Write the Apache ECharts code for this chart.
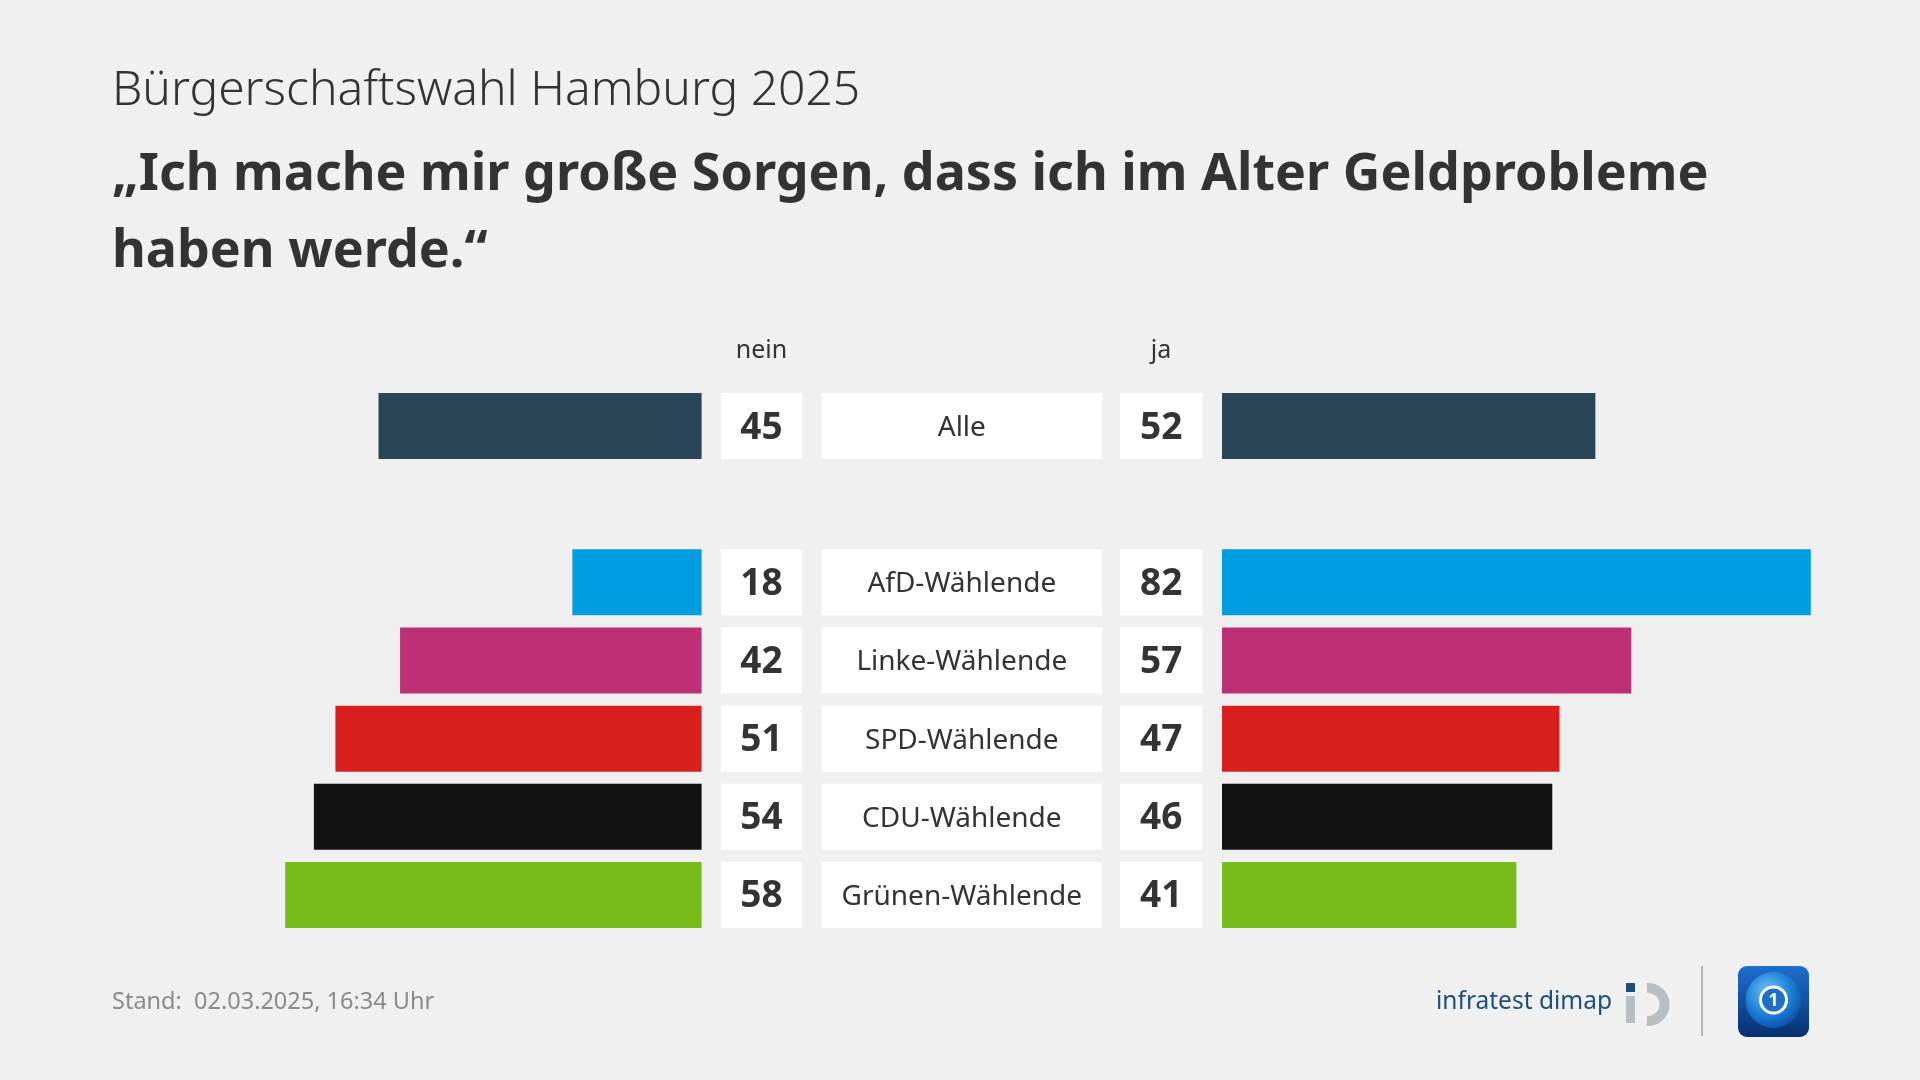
<!DOCTYPE html>
<html>
<head>
<meta charset="utf-8">
<script src="https://cdn.jsdelivr.net/npm/echarts@6/dist/echarts.min.js"></script>
<style>
html,body{margin:0;padding:0;background:#f0f0f0;}
#chart{width:1920px;height:1080px;}
</style>
</head>
<body>
<div id="chart"></div>
<script>
// ---- data ----
const categories = ['Alle', '', 'AfD-Wählende', 'Linke-Wählende', 'SPD-Wählende', 'CDU-Wählende', 'Grünen-Wählende'];
const neinValues = [45, null, 18, 42, 51, 54, 58];
const jaValues = [52, null, 82, 57, 47, 46, 41];
const barColors = ['#2b4558', '#f0f0f0', '#009ee0', '#be3075', '#d71f1d', '#121212', '#78bc1b'];
const headerLabels = ['nein', 'ja'];
const subtitleText = 'Bürgerschaftswahl Hamburg 2025';
const titleLines = ['„Ich mache mir große Sorgen, dass ich im Alter Geldprobleme', 'haben werde.“'];
const footerText = 'Stand:  02.03.2025, 16:34 Uhr';
const sourceText = 'infratest dimap';

const FONT = '"Noto Sans", "Open Sans", sans-serif';
const TEXT = '#333333';

const chart = echarts.init(document.getElementById('chart'), null, {renderer: 'canvas'});

const gridTop = 387, gridBottom = 146;
const scale = 7.18; // px per percent
const leftZero = 701.6, rightZero = 1222;
const leftMax = 60, rightMax = 90;

const midData = categories.map((c, i) => [i, neinValues[i], jaValues[i], c]);

const option = {
  backgroundColor: '#f0f0f0',
  animation: false,
  grid: [
    {left: leftZero - leftMax * scale, width: leftMax * scale, top: gridTop, bottom: gridBottom},
    {left: rightZero, width: rightMax * scale, top: gridTop, bottom: gridBottom},
    {left: 721, width: 481.5, top: gridTop, bottom: gridBottom}
  ],
  xAxis: [
    {gridIndex: 0, type: 'value', min: 0, max: leftMax, inverse: true, show: false},
    {gridIndex: 1, type: 'value', min: 0, max: rightMax, show: false},
    {gridIndex: 2, type: 'value', min: 0, max: 1, show: false}
  ],
  yAxis: [0, 1, 2].map(g => ({gridIndex: g, type: 'category', data: categories, inverse: true, show: false})),
  series: [
    {
      type: 'bar', xAxisIndex: 0, yAxisIndex: 0, barWidth: 66,
      data: neinValues.map((v, i) => ({value: v, itemStyle: {color: barColors[i]}}))
    },
    {
      type: 'bar', xAxisIndex: 1, yAxisIndex: 1, barWidth: 66,
      data: jaValues.map((v, i) => ({value: v, itemStyle: {color: barColors[i]}}))
    },
    {
      type: 'custom', xAxisIndex: 2, yAxisIndex: 2,
      data: midData,
      encode: {y: 0},
      renderItem: function (params, api) {
        const idx = api.value(0);
        const label = categories[idx];
        if (!label) return null;
        const cs = params.coordSys;
        const yc = api.coord([0, idx])[1];
        const h = 66;
        const y0 = yc - h / 2;
        const boxes = [
          {x: cs.x, w: 81, text: String(api.value(1)), bold: true},
          {x: cs.x + 100.6, w: 280.4, text: label, bold: false},
          {x: cs.x + 399, w: 82.5, text: String(api.value(2)), bold: true}
        ];
        const children = [];
        boxes.forEach(b => {
          children.push({type: 'rect', shape: {x: b.x, y: y0, width: b.w, height: h}, style: {fill: '#ffffff'}});
          children.push({type: 'text', style: {
            x: b.x + b.w / 2, y: yc + 2, text: b.text, align: 'center', verticalAlign: 'middle',
            fill: TEXT, font: (b.bold ? 'bold 37px ' : '28px ') + FONT
          }});
        });
        return {type: 'group', children: children};
      }
    }
  ],
  graphic: [
    {type: 'text', left: 112, top: 67, style: {text: subtitleText, font: '300 48px ' + FONT, fill: TEXT}},
    {type: 'text', left: 112, top: 149, style: {text: titleLines[0], font: 'bold 52px ' + FONT, fill: TEXT}},
    {type: 'text', left: 112, top: 226, style: {text: titleLines[1], font: 'bold 52px ' + FONT, fill: TEXT}},
    {type: 'text', x: 761.5, y: 351, style: {text: headerLabels[0], align: 'center', verticalAlign: 'middle', font: '25px ' + FONT, fill: TEXT}},
    {type: 'text', x: 1161, y: 351, style: {text: headerLabels[1], align: 'center', verticalAlign: 'middle', font: '25px ' + FONT, fill: TEXT}},
    {type: 'text', x: 112, y: 1002, style: {text: footerText, verticalAlign: 'middle', font: '23.5px ' + FONT, fill: '#8a8a8a'}},
    {type: 'text', x: 1436, y: 1002, style: {text: sourceText, verticalAlign: 'middle', font: '24.5px ' + FONT, fill: '#1d4f7d'}},
    // infratest dimap mark
    {type: 'rect', shape: {x: 1626, y: 983, width: 9, height: 9}, style: {fill: '#1d4f7d'}},
    {type: 'rect', shape: {x: 1626, y: 996, width: 9, height: 27}, style: {fill: '#b8bec4'}},
    {type: 'arc', shape: {cx: 1648, cy: 1004.5, r: 16.5, startAngle: -Math.PI * 0.52, endAngle: Math.PI * 0.52}, style: {stroke: '#b8bec4', lineWidth: 10, fill: null}},
    // divider
    {type: 'line', shape: {x1: 1702, y1: 966, x2: 1702, y2: 1036}, style: {stroke: '#b5b5b5', lineWidth: 2}},
    // tagesschau logo
    {type: 'rect', shape: {x: 1738, y: 966, width: 71, height: 71, r: 9}, style: {fill: new echarts.graphic.LinearGradient(0, 0, 0, 1, [{offset: 0, color: '#1d6fd0'}, {offset: 1, color: '#08306e'}])}},
    {type: 'circle', shape: {cx: 1773.5, cy: 1000, r: 28}, style: {fill: new echarts.graphic.RadialGradient(0.4, 0.35, 0.7, [{offset: 0, color: '#6fc3f5'}, {offset: 0.6, color: '#1b7fd6'}, {offset: 1, color: '#0c4ea8'}])}},
    {type: 'circle', shape: {cx: 1773.5, cy: 1000, r: 13}, style: {fill: '#1f6fc8', stroke: '#ffffff', lineWidth: 3}},
    {type: 'text', x: 1773.5, y: 1001, style: {text: '1', align: 'center', verticalAlign: 'middle', font: 'bold 18px ' + FONT, fill: '#ffffff'}}
  ]
};
chart.setOption(option);
</script>
</body>
</html>
